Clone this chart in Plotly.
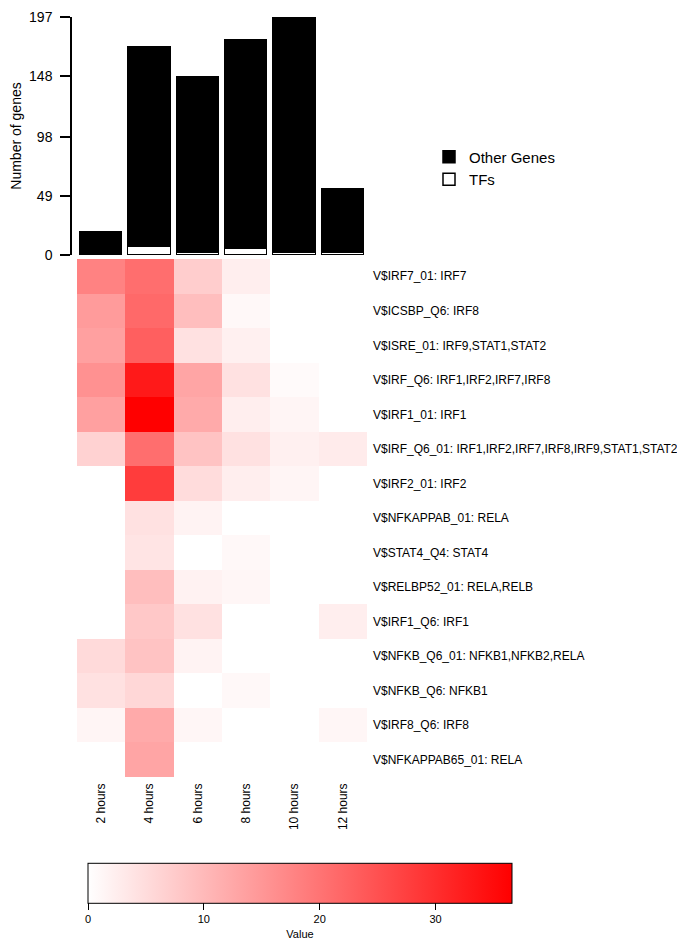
import plotly.graph_objects as go

time_points = ["2 hours", "4 hours", "6 hours", "8 hours", "10 hours", "12 hours"]
tf_counts = [0, 7, 2, 5, 2, 2]
other_counts = [19, 165, 145, 173, 195, 53]
bar_ticks = [0, 49, 98, 148, 197]

motifs = [
    "V$IRF7_01: IRF7",
    "V$ICSBP_Q6: IRF8",
    "V$ISRE_01: IRF9,STAT1,STAT2",
    "V$IRF_Q6: IRF1,IRF2,IRF7,IRF8",
    "V$IRF1_01: IRF1",
    "V$IRF_Q6_01: IRF1,IRF2,IRF7,IRF8,IRF9,STAT1,STAT2",
    "V$IRF2_01: IRF2",
    "V$NFKAPPAB_01: RELA",
    "V$STAT4_Q4: STAT4",
    "V$RELBP52_01: RELA,RELB",
    "V$IRF1_Q6: IRF1",
    "V$NFKB_Q6_01: NFKB1,NFKB2,RELA",
    "V$NFKB_Q6: NFKB1",
    "V$IRF8_Q6: IRF8",
    "V$NFKAPPAB65_01: RELA",
]

values = [
    [17.9, 20.8, 7.2, 2.4, 0.0, 0.0],
    [14.4, 21.5, 9.3, 1.0, 0.0, 0.0],
    [13.6, 23.0, 4.3, 2.2, 0.0, 0.0],
    [15.8, 33.0, 12.9, 4.3, 0.7, 0.0],
    [13.6, 36.6, 12.2, 2.4, 1.4, 0.0],
    [6.5, 20.8, 8.6, 4.3, 2.2, 2.9],
    [0.0, 28.0, 5.0, 2.4, 1.4, 0.0],
    [0.0, 4.3, 1.7, 0.0, 0.0, 0.0],
    [0.0, 3.9, 0.0, 1.0, 0.0, 0.0],
    [0.0, 9.3, 1.9, 1.3, 0.0, 0.0],
    [0.0, 7.9, 4.3, 0.0, 0.0, 2.4],
    [5.3, 8.6, 1.7, 0.0, 0.0, 0.0],
    [4.3, 5.7, 0.0, 1.0, 0.0, 0.0],
    [1.4, 12.2, 1.3, 0.0, 0.0, 1.3],
    [0.0, 12.9, 0.0, 0.0, 0.0, 0.0],
]
cbar_ticks = [0, 10, 20, 30]

# the page body keeps an 8px margin; size the figure to fill the rest of the window
OFF = 8
W, H = 685 - OFF, 940 - OFF
FONT = "Arial, Liberation Sans, sans-serif"

def px_x(p):
    return (p - OFF) / W

def px_y(p):
    return 1 - (p - OFF) / H

xi = list(range(len(time_points)))
yi = list(range(len(motifs)))
zmax = max(max(r) for r in values)

fig = go.Figure()
fig.add_trace(go.Bar(
    x=xi, y=tf_counts, name="TFs", width=0.87,
    marker=dict(color="white", line=dict(color="black", width=1.5)),
    xaxis="x", yaxis="y", hoverinfo="y",
))
fig.add_trace(go.Bar(
    x=xi, y=other_counts, name="Other Genes", width=0.87,
    marker=dict(color="black", line=dict(color="black", width=1.5)),
    xaxis="x", yaxis="y", hoverinfo="y",
))
fig.add_trace(go.Heatmap(
    x=xi, y=yi, z=values,
    colorscale=[[0, "#ffffff"], [1, "#ff0000"]],
    zmin=0, zmax=zmax,
    xaxis="x2", yaxis="y2", showlegend=False,
    colorbar=dict(
        orientation="h", x=px_x(300), xanchor="center",
        y=0, yanchor="bottom",
        lenmode="pixels", len=424, thickness=40,
        outlinecolor="black", outlinewidth=1,
        ticks="outside", ticklen=7, tickcolor="black",
        tickvals=cbar_ticks, ticktext=[str(t) for t in cbar_ticks],
        tickfont=dict(family=FONT, size=11, color="black"),
        title=dict(text="Value", side="bottom", font=dict(family=FONT, size=11, color="black")),
        xpad=0, ypad=0,
    ),
))

dom_x = [px_x(77), px_x(367)]
fig.update_layout(
    width=W, height=H,
    margin=dict(l=0, r=0, t=0, b=0, autoexpand=False),
    paper_bgcolor="white", plot_bgcolor="white",
    barmode="stack", bargap=0,
    font=dict(family=FONT, color="black"),
    xaxis=dict(domain=dom_x, range=[-0.5, 5.5], visible=False, anchor="y"),
    yaxis=dict(
        domain=[px_y(255), px_y(17)], range=[0, 197],
        anchor="free", position=px_x(71), automargin=False,
        showline=True, linecolor="black", linewidth=1.5,
        ticks="outside", ticklen=10, tickwidth=1.5, tickcolor="black",
        tickvals=bar_ticks, ticktext=[str(t) for t in bar_ticks],
        tickfont=dict(size=14), showgrid=False, zeroline=False,
        ticklabelstandoff=5,
        title=dict(text="Number of genes", font=dict(size=14), standoff=16),
    ),
    xaxis2=dict(
        domain=dom_x, range=[-0.5, 5.5], anchor="y2", automargin=False,
        tickvals=xi, ticktext=time_points, tickangle=-90,
        tickfont=dict(size=12), ticks="", showgrid=False, zeroline=False,
        showline=False, ticklabelstandoff=3,
    ),
    yaxis2=dict(
        domain=[px_y(777), px_y(259)], range=[len(motifs) - 0.5, -0.5],
        anchor="x2", side="right", automargin=False,
        tickvals=yi, ticktext=motifs, tickfont=dict(size=12),
        ticks="", showgrid=False, zeroline=False, showline=False,
        ticklabelstandoff=5,
    ),
    legend=dict(
        x=px_x(429), y=px_y(140.5), xanchor="left", yanchor="top",
        traceorder="reversed", font=dict(size=15),
        bgcolor="rgba(0,0,0,0)", itemclick=False,
        tracegroupgap=0,
    ),
)

fig.write_html("out.html")
